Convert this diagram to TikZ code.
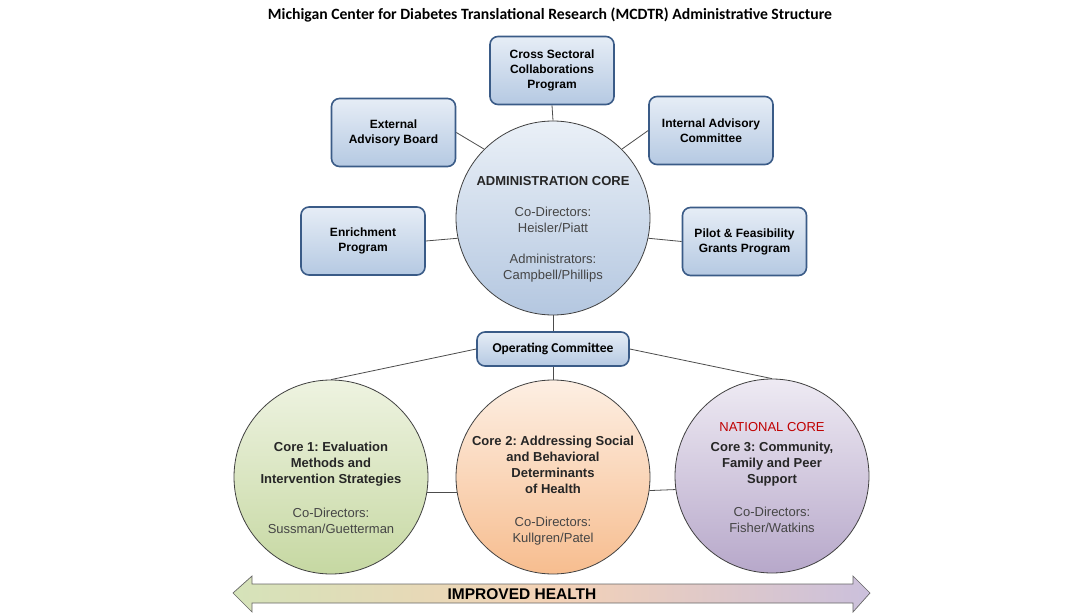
\documentclass[tikz,border=0pt]{standalone}
\usepackage{fontspec}
\usepackage{tikz}
\setmainfont{Liberation Sans}
\newfontfamily\calibri{Carlito}
\definecolor{boxedge}{HTML}{3A5B87}
\definecolor{boxtop}{HTML}{E6EDF6}
\definecolor{boxbot}{HTML}{B5C9E2}
\definecolor{admtop}{HTML}{EAF0F7}
\definecolor{admbot}{HTML}{B4C7E0}
\definecolor{grntop}{HTML}{EEF3E1}
\definecolor{grnbot}{HTML}{C6D8A2}
\definecolor{orgtop}{HTML}{FDEFE3}
\definecolor{orgbot}{HTML}{F7BD8F}
\definecolor{purtop}{HTML}{EEEAF3}
\definecolor{purbot}{HTML}{B7A8CA}
\definecolor{arrgrn}{HTML}{D5E3B9}
\definecolor{arrorg}{HTML}{F4D2B6}
\definecolor{arrpur}{HTML}{CBC0DC}
\definecolor{txtgray}{HTML}{454545}
\definecolor{natred}{HTML}{C00000}
\frenchspacing

\begin{document}
\begin{tikzpicture}[x=1pt,y=-1pt,
  prog/.style={draw=boxedge,line width=1.6pt,rounded corners=8pt,top color=boxtop,bottom color=boxbot,
    minimum width=124pt,minimum height=68pt,align=center,font=\bfseries\fontsize{12}{15}\selectfont},
  core/.style={circle,draw=black!75,line width=0.8pt,minimum size=194pt,inner sep=0pt},
  head/.style={align=center,font=\bfseries\fontsize{13}{16}\selectfont,text=black!85},
  dirs/.style={align=center,font=\fontsize{13}{16}\selectfont,text=txtgray},
  conn/.style={draw=black!70,line width=0.8pt}]
\useasboundingbox (0,0) rectangle (1090,613);
\node[font=\calibri\bfseries\fontsize{15.7}{18}\selectfont] (title) at (550,15)
  {Michigan Center for Diabetes Translational Research (MCDTR) Administrative Structure};
\node[core,top color=admtop,bottom color=admbot] (admin) at (553,218) {};
\node[prog] (cross) at (552,70.5) {Cross Sectoral\\Collaborations\\Program};
\node[prog] (ext) at (393.5,132.5) {External\\Advisory Board};
\node[prog] (int) at (711,130.5) {Internal Advisory\\Committee};
\node[prog] (enrich) at (363,241) {Enrichment\\Program};
\node[prog] (pilot) at (744.5,241.5) {Pilot \& Feasibility\\Grants Program};
\node[prog,minimum width=152pt,minimum height=34pt,font=\calibri\bfseries\fontsize{13.5}{15}\selectfont]
  (opcom) at (553,349) {Operating Committee};
\node[core,top color=grntop,bottom color=grnbot] (core1) at (331,477) {};
\node[core,top color=orgtop,bottom color=orgbot] (core2) at (553,477) {};
\node[core,top color=purtop,bottom color=purbot] (core3) at (772,476) {};
\draw[conn] (cross.south) -- (admin.north);
\draw[conn] (ext.east) -- (admin.135);
\draw[conn] (int.west) -- (admin.45);
\draw[conn] (enrich.east) -- (admin.192);
\draw[conn] (pilot.west) -- (admin.-12);
\draw[conn] (admin.south) -- (opcom.north);
\draw[conn] (opcom.west) -- (core1.north);
\draw[conn] (opcom.east) -- (core3.north);
\draw[conn] (opcom.south) -- (core2.north);
\draw[conn] (core1.-9) -- (core2.189);
\draw[conn] (core2.-8) -- (core3.188);
\node[head] (admhead) at (553,181) {ADMINISTRATION CORE};
\node[dirs] (admdir) at (553,219.5) {Co-Directors:\\Heisler/Piatt};
\node[dirs] (admstaff) at (553,268) {Administrators:\\Campbell/Phillips};
\node[head] (c1head) at (331,464.5) {Core 1: Evaluation\\Methods and\\Intervention Strategies};
\node[dirs] (c1dir) at (331,521) {Co-Directors:\\Sussman/Guetterman};
\node[head] (c2head) at (553,465) {Core 2: Addressing Social\\and Behavioral\\Determinants\\of Health};
\node[dirs] (c2dir) at (553,531) {Co-Directors:\\Kullgren/Patel};
\node[dirs,text=natred] (c3nat) at (772,427) {NATIONAL CORE};
\node[head] (c3head) at (772,464) {Core 3: Community,\\Family and Peer\\Support};
\node[dirs] (c3dir) at (772,520) {Co-Directors:\\Fisher/Watkins};
\path[draw=black!60,line width=0.7pt,left color=arrgrn,right color=arrpur,middle color=arrorg]
  (233,593) -- (252,576) -- (252,584) -- (853,584) -- (853,576) -- (870,593)
  -- (853,612) -- (853,603) -- (252,603) -- (252,612) -- cycle;
\node[font=\bfseries\fontsize{15.5}{18}\selectfont] (health) at (522,594) {IMPROVED HEALTH};
\end{tikzpicture}
\end{document}
